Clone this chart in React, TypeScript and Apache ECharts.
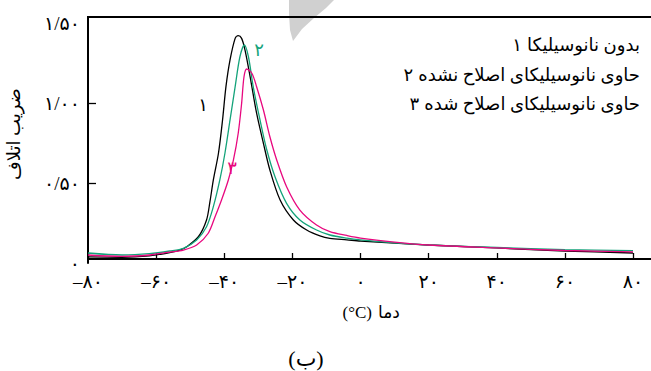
import React, { useEffect, useRef } from "react";
import * as echarts from "echarts";

// ---- data ----
const xTicks = [-80, -60, -40, -20, 0, 20, 40, 60, 80];
const yTicks = [0, 0.5, 1.0, 1.5];

const blackX = [-80, -70, -62, -56, -53, -51, -47.6, -45.2, -44.2, -43.2, -41.7, -40.5, -39.5, -38.3, -36.8, -35.9, -34.9, -33.9, -32.4, -30.5, -28.5, -26.6, -23.6, -19.7, -15.8, -11.9, -9, -4, 0, 10, 20, 40, 60, 80];
const blackY = [0.038, 0.036, 0.045, 0.065, 0.081, 0.102, 0.164, 0.269, 0.383, 0.519, 0.686, 0.894, 1.102, 1.269, 1.404, 1.421, 1.404, 1.331, 1.164, 0.936, 0.748, 0.581, 0.394, 0.269, 0.206, 0.169, 0.154, 0.145, 0.1375, 0.124, 0.1125, 0.094, 0.075, 0.0625];

const greenX = [-80, -70, -62, -56, -52, -48.1, -45.2, -43.2, -41.3, -39.8, -38.3, -36.8, -35.4, -34.1, -32.9, -31.5, -29.5, -27.5, -25.1, -21.7, -17.8, -12.9, -9, -4, 0, 10, 20, 40, 60, 80];
const greenY = [0.0625, 0.05, 0.058, 0.075, 0.092, 0.144, 0.227, 0.352, 0.519, 0.686, 0.894, 1.102, 1.289, 1.3625, 1.289, 1.102, 0.894, 0.706, 0.539, 0.373, 0.269, 0.206, 0.175, 0.155, 0.144, 0.126, 0.1125, 0.097, 0.084, 0.077];

const magentaX = [-80, -70, -62, -56, -52, -48.1, -44.7, -42.7, -40.8, -38.8, -37.3, -35.9, -34.9, -34.2, -33.4, -31.9, -30.5, -28.5, -26.6, -24.6, -21.7, -17.8, -12.9, -9, -4, 0, 10, 20, 40, 60, 80];
const magentaY = [0.05, 0.041, 0.05, 0.068, 0.081, 0.1125, 0.186, 0.289, 0.394, 0.519, 0.644, 0.811, 0.998, 1.164, 1.2125, 1.186, 1.102, 0.956, 0.789, 0.644, 0.477, 0.331, 0.2375, 0.196, 0.172, 0.156, 0.131, 0.1125, 0.094, 0.078, 0.069];

const legendNumbers = ["۱", "۲", "۳"];
const legendPhrases = [
  "بدون نانوسیلیکا",
  "حاوی نانوسیلیکای اصلاح نشده",
  "حاوی نانوسیلیکای اصلاح شده",
];
const curveTags = ["۱", "۲", "۳"];
const tagCoords: [number, number][] = [[-46.2, 0.99], [-29.8, 1.33], [-37.7, 0.594]];
const xNameWord = "دما";
const xNameUnit = "(°C)";
const yName = "ضریب اتلاف";
const caption = "(ب)";

const COLORS = ["#000000", "#14a37a", "#e8087f"];
const FONT = "'Liberation Serif', 'DejaVu Sans', serif";
const LRM = "\u200E";
const LEGEND_SIZE = 18;

const fa = (s: string) => s.replace(/[0-9]/g, (d) => "۰۱۲۳۴۵۶۷۸۹"[+d]);
const zip = (xs: number[], ys: number[]) => xs.map((x, i) => [x, ys[i]]);

function measure(text: string, size: number): number {
  const ctx = document.createElement("canvas").getContext("2d");
  if (!ctx) return text.length * size * 0.45;
  ctx.font = `${size}px ${FONT}`;
  return ctx.measureText(text).width;
}

export default function App() {
  const ref = useRef<HTMLDivElement>(null);
  useEffect(() => {
    if (!ref.current) return;
    const chart = echarts.init(ref.current, undefined, { renderer: "svg" });
    const seriesData = [zip(blackX, blackY), zip(greenX, greenY), zip(magentaX, magentaY)];
    const legendGraphics: any[] = [];
    legendPhrases.forEach((p, i) => {
      const y = 45 + i * 29.5;
      const w = measure(p, LEGEND_SIZE);
      legendGraphics.push({
        type: "text",
        x: 640,
        y,
        style: { text: p, align: "right", verticalAlign: "middle", fontSize: LEGEND_SIZE, fill: "#000", fontFamily: FONT },
      });
      legendGraphics.push({
        type: "text",
        x: 640 - w - 5,
        y,
        style: { text: legendNumbers[i], align: "right", verticalAlign: "middle", fontSize: LEGEND_SIZE, fill: "#000", fontFamily: FONT },
      });
    });
    chart.setOption({
      animation: false,
      backgroundColor: "#ffffff",
      grid: { left: 88, right: 18, top: 17, bottom: 108 },
      xAxis: {
        type: "value",
        min: xTicks[0],
        max: xTicks[xTicks.length - 1],
        interval: 20,
        offset: -4,
        axisLine: { show: true, onZero: false, lineStyle: { color: "#000", width: 2 } },
        axisTick: { show: true, inside: true, length: 6, lineStyle: { color: "#000", width: 1.3 } },
        axisLabel: {
          margin: 13,
          fontSize: 19,
          color: "#000",
          fontFamily: FONT,
          formatter: (v: number) => LRM + (v < 0 ? "–" + fa(String(Math.abs(v))) : fa(String(v))),
        },
        splitLine: { show: false },
      },
      yAxis: {
        type: "value",
        min: 0,
        max: 1.5375,
        interval: 0.5,
        axisLine: { show: true, onZero: false, lineStyle: { color: "#000", width: 2 } },
        axisTick: { show: true, inside: true, length: 8, customValues: [0.5, 1.0], lineStyle: { color: "#000", width: 1.3 } },
        axisLabel: {
          margin: 8,
          fontSize: 19,
          color: "#000",
          fontFamily: FONT,
          customValues: yTicks,
          formatter: (v: number) => LRM + (v === 0 ? "۰" : fa(v.toFixed(2).replace(".", "/"))),
        },
        splitLine: { show: false },
      },
      series: seriesData.map((d, i) => ({
        type: "line",
        data: d,
        smooth: 0.3,
        showSymbol: false,
        symbol: "none",
        lineStyle: { color: COLORS[i], width: 1.3 },
        markPoint: {
          symbol: "circle",
          symbolSize: 0,
          data: [{ coord: tagCoords[i] }],
          label: {
            show: true,
            position: "inside",
            formatter: curveTags[i],
            color: COLORS[i],
            fontSize: 18,
            fontFamily: FONT,
          },
        },
      })),
      graphic: [
        {
          type: "polygon",
          z: 0,
          shape: { points: [[289, 0], [334, 0], [326, 8], [314, 18], [302, 29], [293, 41], [290, 30], [289, 14]] },
          style: { fill: "#d0d0d0" },
        },
        { type: "line", z: 10, shape: { x1: 87, y1: 17, x2: 651, y2: 17 }, style: { stroke: "#000", lineWidth: 2 } },
        { type: "line", z: 10, shape: { x1: 632, y1: 259, x2: 651, y2: 259 }, style: { stroke: "#000", lineWidth: 2 } },
        ...legendGraphics,
        {
          type: "text",
          x: 14,
          y: 134,
          rotation: Math.PI / 2,
          style: { text: yName, align: "center", verticalAlign: "middle", fontSize: 18, fill: "#000", fontFamily: FONT },
        },
        {
          type: "text",
          x: 372,
          y: 312,
          style: { text: xNameUnit, align: "right", verticalAlign: "middle", fontSize: 17, fill: "#000", fontFamily: FONT },
        },
        {
          type: "text",
          x: 378,
          y: 312,
          style: { text: xNameWord, align: "left", verticalAlign: "middle", fontSize: 17, fill: "#000", fontFamily: FONT },
        },
        {
          type: "text",
          x: 306,
          y: 358,
          style: { text: caption, align: "center", verticalAlign: "middle", fontSize: 22, fill: "#000", fontFamily: FONT },
        },
      ],
    });
    return () => chart.dispose();
  }, []);
  return <div ref={ref} style={{ width: 651, height: 371, position: "absolute", left: 0, top: 0 }} />;
}
